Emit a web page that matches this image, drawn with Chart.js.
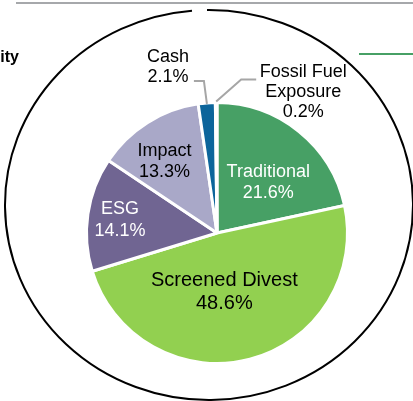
<!DOCTYPE html>
<html>
<head>
<meta charset="utf-8">
<script src="https://cdn.jsdelivr.net/npm/chart.js@4/dist/chart.umd.min.js"></script>
<style>
  html, body { margin: 0; padding: 0; background: #fff; }
  #wrap { position: relative; width: 413px; height: 401px; }
</style>
</head>
<body>
<div id="wrap"><canvas id="c" width="413" height="401"></canvas></div>
<script>
const categories = ["Traditional", "Screened Divest", "ESG", "Impact", "Cash", "Fossil Fuel Exposure"];
const values = [21.6, 48.6, 14.1, 13.3, 2.1, 0.2];
const colors = ["#47A065", "#92D050", "#706592", "#A9A8C8", "#0C659B", "#0C659B"];
const labelLines = [
  ["Traditional", "21.6%"],
  ["Screened Divest", "48.6%"],
  ["ESG", "14.1%"],
  ["Impact", "13.3%"],
  ["Cash", "2.1%"],
  ["Fossil Fuel", "Exposure", "0.2%"]
];
const labelColors = ["#ffffff", "#000000", "#ffffff", "#000000", "#000000", "#000000"];

// label placement: inside labels by radius fraction + angle nudge (deg)
const inside = {
  0: { frac: 0.55, dAng: 6.7, size: 18, lh: 21 },
  1: { frac: 0.455, dAng: 7.5, size: 20, lh: 23 },
  2: { frac: 0.75, dAng: -0.5, size: 18, lh: 22 },
  3: { frac: 0.68, dAng: -4, size: 18, lh: 21 }
};

const decor = {
  id: 'decor',
  beforeDraw(chart) {
    const ctx = chart.ctx;
    ctx.save();
    ctx.strokeStyle = '#A6A8AB';
    ctx.lineWidth = 2;
    ctx.beginPath(); ctx.moveTo(16, 3); ctx.lineTo(413, 3); ctx.stroke();
    ctx.strokeStyle = '#47A065';
    ctx.beginPath(); ctx.moveTo(359, 54); ctx.lineTo(413, 54); ctx.stroke();
    ctx.fillStyle = '#000';
    ctx.font = 'bold 16px "Liberation Sans", Arial, sans-serif';
    ctx.textAlign = 'right'; ctx.textBaseline = 'alphabetic';
    ctx.fillText('ity', 19, 62);
    ctx.strokeStyle = '#000';
    ctx.lineWidth = 2;
    const cx = 209, cy = 205, rx = 204, ry = 195;
    const a1 = Math.acos((207 - cx) / rx);
    const a2 = Math.acos((192 - cx) / rx);
    ctx.beginPath();
    ctx.ellipse(cx, cy, rx, ry, 0, -a1, -a2 + 2 * Math.PI, false);
    ctx.stroke();
    ctx.restore();
  },
  afterDatasetsDraw(chart) {
    const ctx = chart.ctx;
    const meta = chart.getDatasetMeta(0);
    ctx.save();
    ctx.textAlign = 'center';
    ctx.textBaseline = 'middle';
    meta.data.forEach((arc, i) => {
      const p = arc.getProps(['x', 'y', 'startAngle', 'endAngle', 'outerRadius'], true);
      const mid = (p.startAngle + p.endAngle) / 2;
      const lines = labelLines[i];
      ctx.fillStyle = labelColors[i];
      if (inside[i]) {
        const s = inside[i];
        ctx.font = s.size + 'px "Liberation Sans", Arial, sans-serif';
        const a = mid + s.dAng * Math.PI / 180;
        const r = p.outerRadius * s.frac;
        const lx = p.x + Math.cos(a) * r;
        const ly = p.y + Math.sin(a) * r;
        lines.forEach((t, k) => ctx.fillText(t, lx, ly + (k - (lines.length - 1) / 2) * s.lh));
      } else {
        ctx.font = '18px "Liberation Sans", Arial, sans-serif';
        const lh = 20;
        const ex = p.x + Math.cos(mid) * (p.outerRadius - 2);
        const ey = p.y + Math.sin(mid) * (p.outerRadius - 2);
        ctx.strokeStyle = '#A6A6A6';
        ctx.lineWidth = 2;
        ctx.beginPath();
        let lx, ly;
        if (i === 4) {
          ctx.moveTo(ex, ey - 1);
          ctx.lineTo(ex - 3, ey - 24);
          ctx.lineTo(ex - 13, ey - 24);
          lx = ex - 39; ly = ey - 38;
        } else {
          ctx.moveTo(ex, ey - 3);
          ctx.lineTo(ex + 25, ey - 25);
          ctx.lineTo(ex + 40, ey - 25);
          lx = ex + 87; ly = ey - 12;
        }
        ctx.stroke();
        lines.forEach((t, k) => ctx.fillText(t, lx, ly + (k - (lines.length - 1) / 2) * lh));
      }
    });
    ctx.restore();
  }
};

new Chart(document.getElementById('c'), {
  type: 'pie',
  data: {
    labels: categories,
    datasets: [{
      data: values,
      backgroundColor: colors,
      borderColor: '#ffffff',
      borderWidth: 3
    }]
  },
  options: {
    responsive: false,
    animation: false,
    layout: { padding: { left: 85, right: 64, top: 101, bottom: 36 } },
    plugins: {
      legend: { display: false },
      tooltip: { enabled: false }
    }
  },
  plugins: [decor]
});
</script>
</body>
</html>
